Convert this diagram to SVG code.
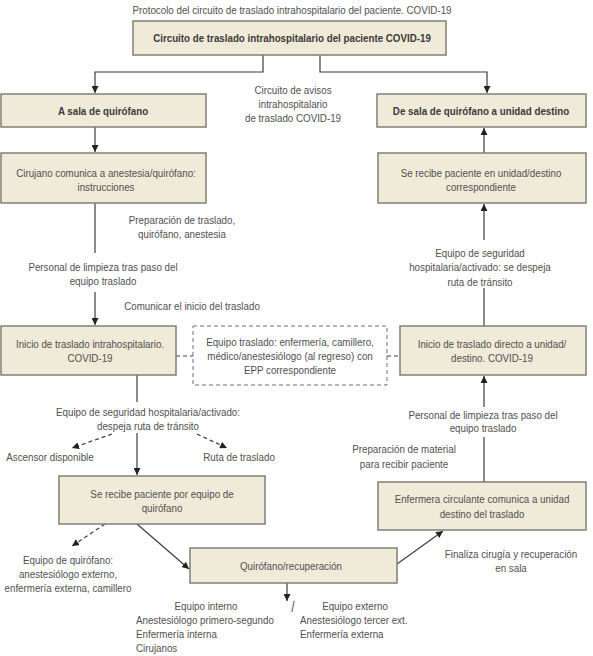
<svg xmlns="http://www.w3.org/2000/svg" width="593" height="656" viewBox="0 0 593 656">
<style>
.bg{fill:#ffffff}
.box{fill:#f0ead8;stroke:#807f76;stroke-width:1.5}
.dbox{fill:#ffffff;stroke:#6e6e6e;stroke-width:1;stroke-dasharray:4 3}
.t{font-family:"Liberation Sans",Arial,sans-serif;font-size:11.5px;fill:#505050;text-anchor:middle}
.l{text-anchor:start}
.b{font-weight:bold;fill:#3a3a3a}
.c{fill:none;stroke:#3c3c3c;stroke-width:1.2}
.d{stroke-dasharray:4 3}
</style>
<defs>
<marker id="ah" viewBox="0 0 10 10" refX="10" refY="5" markerWidth="7" markerHeight="7" markerUnits="userSpaceOnUse" orient="auto">
<path d="M0,0 L10,5 L0,10 z" fill="#222"/>
</marker>
</defs>
<rect class="bg" x="0" y="0" width="593" height="656"/>
<text class="t" transform="translate(292,14) scale(.85,1)">Protocolo del circuito de traslado intrahospitalario del paciente. COVID-19</text>
<text class="t" transform="translate(293,94) scale(.85,1)">Circuito de avisos</text>
<text class="t" transform="translate(293,108) scale(.85,1)">intrahospitalario</text>
<text class="t" transform="translate(293,122) scale(.85,1)">de traslado COVID-19</text>

<g id="connectors">
<path class="c" d="M263,55 V72 H95 V93" marker-end="url(#ah)"/>
<path class="c" d="M320,55 V72 H487 V93" marker-end="url(#ah)"/>
<path class="c" d="M95,127 V152" marker-end="url(#ah)"/>
<path class="c" d="M95,203 V253"/>
<path class="c" d="M95,292 V325" marker-end="url(#ah)"/>
<path class="c d" d="M176,356 H193"/>
<path class="c d" d="M387,356 H400"/>
<path class="c" d="M137,375 V402"/>
<path class="c" d="M137,433 V475" marker-end="url(#ah)"/>
<path class="c d" d="M112,434 L72,448" marker-end="url(#ah)"/>
<path class="c d" d="M197,434 L227,448" marker-end="url(#ah)"/>
<path class="c d" d="M105,524 L72,546" marker-end="url(#ah)"/>
<path class="c" d="M137,524 L189,569" marker-end="url(#ah)"/>
<path class="c" d="M397,564 L443,531" marker-end="url(#ah)"/>
<path class="c" d="M287,583 V601" marker-end="url(#ah)"/>
<path class="c" d="M484,482 V437"/>
<path class="c" d="M484,407 V376" marker-end="url(#ah)"/>
<path class="c" d="M484,326 V288"/>
<path class="c" d="M484,240 V204" marker-end="url(#ah)"/>
<path class="c" d="M484,153 V128" marker-end="url(#ah)"/>
</g>

<g id="n-title">
<rect class="box" x="133" y="21" width="313" height="34"/>
<text class="t b" transform="translate(292,42) scale(.85,1)">Circuito de traslado intrahospitalario del paciente COVID-19</text>
</g>
<g id="n-asala">
<rect class="box" x="1" y="94" width="205" height="33"/>
<text class="t b" transform="translate(103,115) scale(.85,1)">A sala de quirófano</text>
</g>
<g id="n-desala">
<rect class="box" x="377" y="94" width="209" height="33"/>
<text class="t b" transform="translate(481,115) scale(.85,1)">De sala de quirófano a unidad destino</text>
</g>
<g id="n-cirujano">
<rect class="box" x="1" y="153" width="205" height="50"/>
<text class="t" transform="translate(106,177) scale(.85,1)">Cirujano comunica a anestesia/quirófano:</text>
<text class="t" transform="translate(106,191) scale(.85,1)">instrucciones</text>
</g>
<g id="n-serecibe-unidad">
<rect class="box" x="378" y="153" width="208" height="50"/>
<text class="t" transform="translate(481,177) scale(.85,1)">Se recibe paciente en unidad/destino</text>
<text class="t" transform="translate(481,191) scale(.85,1)">correspondiente</text>
</g>
<g id="lbl-left1">
<text class="t" transform="translate(182,224) scale(.85,1)">Preparación de traslado,</text>
<text class="t" transform="translate(182,238) scale(.85,1)">quirófano, anestesia</text>
<text class="t" transform="translate(103,271) scale(.85,1)">Personal de limpieza tras paso del</text>
<text class="t" transform="translate(103,285) scale(.85,1)">equipo traslado</text>
<text class="t" transform="translate(192,310) scale(.85,1)">Comunicar el inicio del traslado</text>
</g>
<g id="lbl-right1">
<text class="t" transform="translate(480,257) scale(.85,1)">Equipo de seguridad</text>
<text class="t" transform="translate(480,271) scale(.85,1)">hospitalaria/activado: se despeja</text>
<text class="t" transform="translate(480,286) scale(.85,1)">ruta de tránsito</text>
</g>
<g id="n-inicio">
<rect class="box" x="1" y="326" width="175" height="49"/>
<text class="t" transform="translate(90,348) scale(.85,1)">Inicio de traslado intrahospitalario.</text>
<text class="t" transform="translate(90,362) scale(.85,1)">COVID-19</text>
</g>
<g id="n-equipo-traslado">
<rect class="dbox" x="193" y="326" width="194" height="59"/>
<text class="t" transform="translate(290,346) scale(.85,1)">Equipo traslado: enfermería, camillero,</text>
<text class="t" transform="translate(290,360) scale(.85,1)">médico/anestesiólogo (al regreso) con</text>
<text class="t" transform="translate(290,374) scale(.85,1)">EPP correspondiente</text>
</g>
<g id="n-inicio-directo">
<rect class="box" x="400" y="326" width="186" height="49"/>
<text class="t" transform="translate(492,348) scale(.85,1)">Inicio de traslado directo a unidad/</text>
<text class="t" transform="translate(492,362) scale(.85,1)">destino. COVID-19</text>
</g>
<g id="lbl-left2">
<text class="t" transform="translate(148,416) scale(.85,1)">Equipo de seguridad hospitalaria/activado:</text>
<text class="t" transform="translate(148,430) scale(.85,1)">despeja ruta de tránsito</text>
<text class="t" transform="translate(50,461) scale(.85,1)">Ascensor disponible</text>
<text class="t" transform="translate(239,461) scale(.85,1)">Ruta de traslado</text>
</g>
<g id="lbl-right2">
<text class="t" transform="translate(483,419) scale(.85,1)">Personal de limpieza tras paso del</text>
<text class="t" transform="translate(483,432) scale(.85,1)">equipo traslado</text>
<text class="t" transform="translate(404,453) scale(.85,1)">Preparación de material</text>
<text class="t" transform="translate(404,468) scale(.85,1)">para recibir paciente</text>
</g>
<g id="n-serecibe-quirofano">
<rect class="box" x="59" y="476" width="206" height="48"/>
<text class="t" transform="translate(162,498) scale(.85,1)">Se recibe paciente por equipo de</text>
<text class="t" transform="translate(162,512) scale(.85,1)">quirófano</text>
</g>
<g id="n-enfermera">
<rect class="box" x="378" y="482" width="208" height="48"/>
<text class="t" transform="translate(482,503) scale(.85,1)">Enfermera circulante comunica a unidad</text>
<text class="t" transform="translate(482,518) scale(.85,1)">destino del traslado</text>
</g>
<g id="n-quirofano">
<rect class="box" x="190" y="548" width="207" height="35"/>
<text class="t" transform="translate(291,570) scale(.85,1)">Quirófano/recuperación</text>
</g>
<g id="lbl-bottom">
<text class="t" transform="translate(68,564) scale(.85,1)">Equipo de quirófano:</text>
<text class="t" transform="translate(68,578) scale(.85,1)">anestesiólogo externo,</text>
<text class="t" transform="translate(68,592) scale(.85,1)">enfermería externa, camillero</text>
<text class="t" transform="translate(511,558) scale(.85,1)">Finaliza cirugía y recuperación</text>
<text class="t" transform="translate(511,572) scale(.85,1)">en sala</text>
<text class="t" transform="translate(206,610) scale(.85,1)">Equipo interno</text>
<text class="t l" transform="translate(136,624) scale(.85,1)">Anestesiólogo primero-segundo</text>
<text class="t l" transform="translate(136,638) scale(.85,1)">Enfermería interna</text>
<text class="t l" transform="translate(136,652) scale(.85,1)">Cirujanos</text>
<text class="t" transform="translate(293,612) scale(.85,1)" style="font-size:14px">/</text>
<text class="t" transform="translate(355,610) scale(.85,1)">Equipo externo</text>
<text class="t l" transform="translate(300,624) scale(.85,1)">Anestesiólogo tercer ext.</text>
<text class="t l" transform="translate(300,638) scale(.85,1)">Enfermería externa</text>
</g>
</svg>
